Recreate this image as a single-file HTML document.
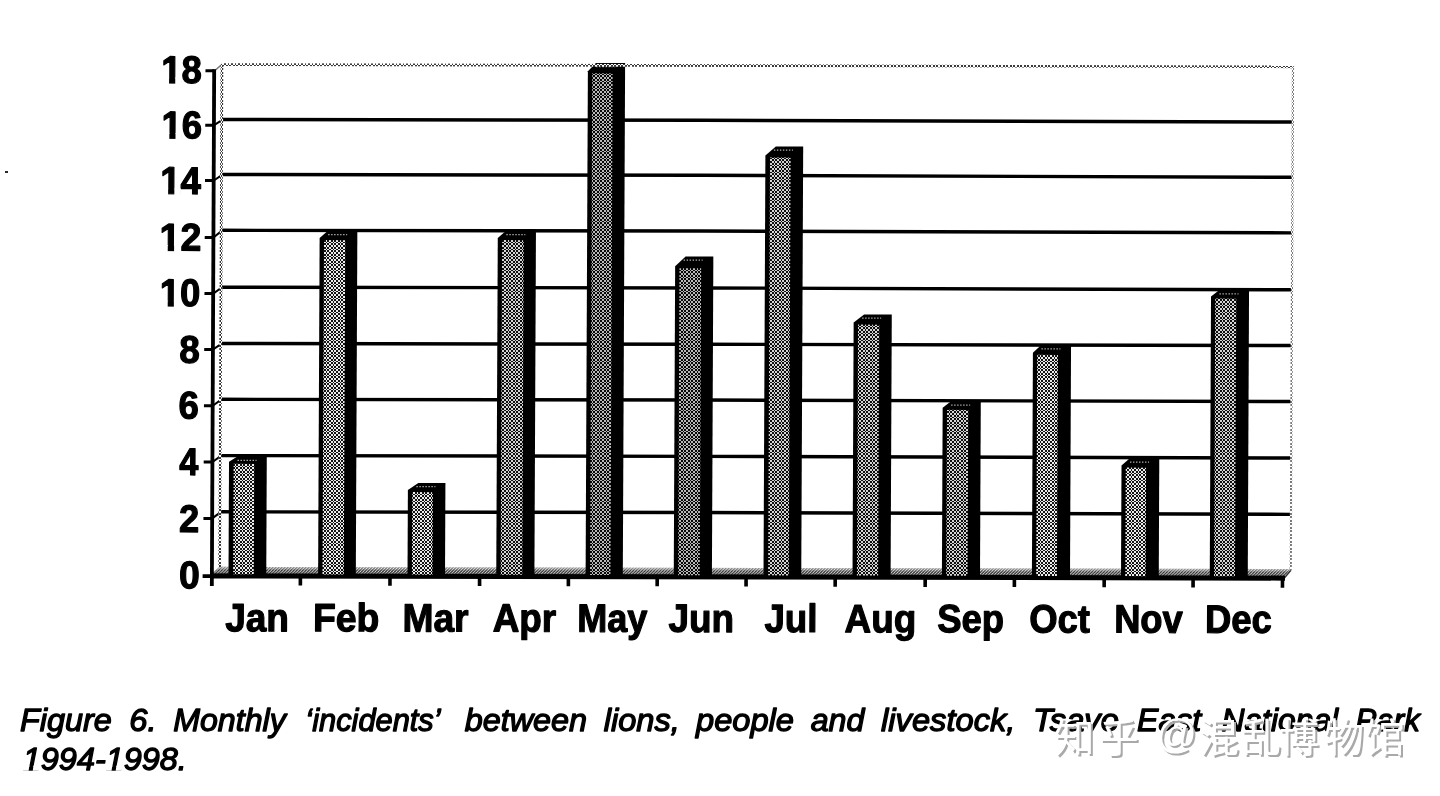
<!DOCTYPE html>
<html lang="en"><head><meta charset="utf-8"><title>Figure 6. Monthly incidents between lions, people and livestock</title>
<style>
html,body{margin:0;padding:0;background:#fff;}
body{width:1440px;height:796px;overflow:hidden;position:relative;font-family:"Liberation Sans",sans-serif;}
svg{display:block;position:absolute;left:0;top:0;will-change:transform;}
text{font-family:"Liberation Sans",sans-serif;}
.yl,.xl{font-weight:bold;font-size:39.5px;fill:#000;stroke:#000;stroke-width:1.2px;stroke-linejoin:round;}
.yl{font-size:38.6px;}
.cap{font-style:italic;font-size:32px;fill:#000;stroke:#000;stroke-width:1.3px;stroke-linejoin:round;}
.wm{font-family:"Liberation Sans","Noto Sans CJK SC",sans-serif;font-size:40px;}
</style></head><body>
<svg width="1440" height="796" viewBox="0 0 1440 796">
<defs>
<pattern id="d0" width="7" height="7" patternUnits="userSpaceOnUse"><rect width="7" height="7" fill="#ececec"/><path d="M0 0h2v1h-2zM4 0h1v1h-1zM0 1h2v1h-2zM4 1h1v1h-1zM2 2h2v1h-2zM5 2h2v1h-2zM2 3h2v1h-2zM5 3h2v1h-2zM0 4h2v1h-2zM4 4h1v1h-1zM2 5h2v1h-2zM5 5h2v1h-2zM2 6h2v1h-2zM5 6h2v1h-2z" fill="#141414"/></pattern>
<pattern id="d1" width="7" height="7" patternUnits="userSpaceOnUse"><rect width="7" height="7" fill="#d4d4d4"/><path d="M0 0h2v1h-2zM4 0h1v1h-1zM0 1h2v1h-2zM4 1h1v1h-1zM2 2h2v1h-2zM5 2h2v1h-2zM2 3h2v1h-2zM5 3h2v1h-2zM0 4h2v1h-2zM4 4h1v1h-1zM2 5h2v1h-2zM5 5h2v1h-2zM2 6h2v1h-2zM5 6h2v1h-2z" fill="#0e0e0e"/></pattern>
<pattern id="d2" width="7" height="7" patternUnits="userSpaceOnUse"><rect width="7" height="7" fill="#b8b8b8"/><path d="M0 0h2v1h-2zM4 0h1v1h-1zM0 1h2v1h-2zM4 1h1v1h-1zM2 2h2v1h-2zM5 2h2v1h-2zM2 3h2v1h-2zM5 3h2v1h-2zM0 4h2v1h-2zM4 4h1v1h-1zM2 5h2v1h-2zM5 5h2v1h-2zM2 6h2v1h-2zM5 6h2v1h-2z" fill="#080808"/></pattern>
<pattern id="dl" width="7" height="7" patternUnits="userSpaceOnUse"><rect width="7" height="7" fill="#ffffff"/><path d="M0 0h2v1h-2zM4 0h1v1h-1zM0 1h2v1h-2zM4 1h1v1h-1zM2 2h2v1h-2zM5 2h2v1h-2zM2 3h2v1h-2zM5 3h2v1h-2zM0 4h2v1h-2zM4 4h1v1h-1zM2 5h2v1h-2zM5 5h2v1h-2zM2 6h2v1h-2zM5 6h2v1h-2z" fill="#3a3a3a"/></pattern>
<pattern id="dr" width="7" height="7" patternUnits="userSpaceOnUse"><rect width="7" height="7" fill="#ffffff"/><path d="M0 0h2v1h-2zM4 0h1v1h-1zM0 1h2v1h-2zM4 1h1v1h-1zM2 2h2v1h-2zM5 2h2v1h-2zM2 3h2v1h-2zM5 3h2v1h-2zM0 4h2v1h-2zM4 4h1v1h-1zM2 5h2v1h-2zM5 5h2v1h-2zM2 6h2v1h-2zM5 6h2v1h-2z" fill="#7a7a7a"/></pattern>
<pattern id="df" width="3" height="3" patternUnits="userSpaceOnUse"><rect width="3" height="3" fill="#efefef"/><path d="M-1 1 L1 -1 M0 3 L3 0 M2 4 L4 2" stroke="#1a1a1a" stroke-width="1.25"/></pattern>
<linearGradient id="fg" x1="0" y1="0" x2="0" y2="1"><stop offset="0" stop-color="#fff" stop-opacity="0.55"/><stop offset="0.55" stop-color="#fff" stop-opacity="0"/><stop offset="1" stop-color="#000" stop-opacity="0.45"/></linearGradient>
</defs>
<rect width="1440" height="796" fill="#fff"/>
<rect x="5" y="171" width="3" height="2" fill="#2a2a2a"/>
<g transform="matrix(1 0.0021 -0.0045 1 2.5920 -0.4452)">
<path d="M212.5 70.6 L219.5 64.5" stroke="#777" stroke-width="1.4" fill="none"/>
<path d="M1284.5 575.5 L1290.8 568" stroke="#333" stroke-width="1.6" fill="none"/>
<polygon points="211.5,574.2 219.5,566.8 1290.8,566.8 1284.5,574.2" fill="url(#df)"/>
<polygon points="211.5,574.2 219.5,566.8 1290.8,566.8 1284.5,574.2" fill="url(#fg)"/>
<g stroke="#000" fill="none" stroke-linecap="butt">
<path d="M219.6 119.50 L700 119.25 L1290.3 119.80" stroke-width="3.4"/>
<path d="M212 125.20 L220.4 119.80" stroke-width="2"/>
<path d="M219.6 174.50 L700 174.25 L1290.3 175.00" stroke-width="3.4"/>
<path d="M212 180.50 L220.4 174.80" stroke-width="2"/>
<path d="M219.6 230.30 L700 230.05 L1290.3 230.60" stroke-width="3.4"/>
<path d="M212 237.60 L220.4 230.60" stroke-width="2"/>
<path d="M219.6 287.20 L700 286.95 L1290.3 287.50" stroke-width="3.4"/>
<path d="M212 293.60 L220.4 287.50" stroke-width="2"/>
<path d="M219.6 343.50 L700 343.25 L1290.3 343.30" stroke-width="3.4"/>
<path d="M212 349.40 L220.4 343.80" stroke-width="2"/>
<path d="M219.6 399.30 L700 399.05 L1290.3 399.30" stroke-width="3.4"/>
<path d="M212 405.80 L220.4 399.60" stroke-width="2"/>
<path d="M219.6 455.60 L700 455.35 L1290.3 455.80" stroke-width="3.4"/>
<path d="M212 462.00 L220.4 455.90" stroke-width="2"/>
<path d="M219.6 511.80 L700 511.55 L1290.3 512.10" stroke-width="3.4"/>
<path d="M212 518.40 L220.4 512.10" stroke-width="2"/>
</g>
<polygon points="228.50,461.72 236.50,456.69 266.25,456.69 266.25,577.0 228.50,577.0" fill="#000"/>
<path d="M237.0 460.3 h19" stroke="#b0b0b0" stroke-width="1.3" stroke-dasharray="1.4 1.6"/>
<polygon points="318.10,237.78 326.10,230.76 355.80,230.76 355.80,577.0 318.10,577.0" fill="#000"/>
<path d="M326.6 234.4 h19" stroke="#b0b0b0" stroke-width="1.3" stroke-dasharray="1.4 1.6"/>
<polygon points="407.50,489.59 417.90,482.57 445.00,482.57 445.00,577.0 407.50,577.0" fill="#000"/>
<path d="M416.0 486.2 h19" stroke="#b0b0b0" stroke-width="1.3" stroke-dasharray="1.4 1.6"/>
<polygon points="496.25,237.40 504.25,230.38 534.40,230.38 534.40,577.0 496.25,577.0" fill="#000"/>
<path d="M504.8 234.0 h19" stroke="#b0b0b0" stroke-width="1.3" stroke-dasharray="1.4 1.6"/>
<polygon points="585.60,70.47 593.60,62.19 622.80,62.19 622.80,577.0 585.60,577.0" fill="#000"/>
<path d="M594.1 65.8 h19" stroke="#b0b0b0" stroke-width="1.3" stroke-dasharray="1.4 1.6"/>
<polygon points="673.75,265.23 684.15,255.51 711.90,255.51 711.90,577.0 673.75,577.0" fill="#000"/>
<path d="M682.2 259.1 h19" stroke="#b0b0b0" stroke-width="1.3" stroke-dasharray="1.4 1.6"/>
<polygon points="763.50,154.24 773.90,145.32 801.25,145.32 801.25,577.0 763.50,577.0" fill="#000"/>
<path d="M772.0 148.9 h19" stroke="#b0b0b0" stroke-width="1.3" stroke-dasharray="1.4 1.6"/>
<polygon points="852.50,321.15 862.90,313.13 890.60,313.13 890.60,577.0 852.50,577.0" fill="#000"/>
<path d="M861.0 316.7 h19" stroke="#b0b0b0" stroke-width="1.3" stroke-dasharray="1.4 1.6"/>
<polygon points="941.90,406.22 949.90,399.95 980.00,399.95 980.00,577.0 941.90,577.0" fill="#000"/>
<path d="M950.4 403.5 h19" stroke="#b0b0b0" stroke-width="1.3" stroke-dasharray="1.4 1.6"/>
<polygon points="1031.90,351.03 1039.90,343.51 1070.00,343.51 1070.00,577.0 1031.90,577.0" fill="#000"/>
<path d="M1040.4 347.1 h19" stroke="#b0b0b0" stroke-width="1.3" stroke-dasharray="1.4 1.6"/>
<polygon points="1121.00,463.59 1129.00,456.57 1158.75,456.57 1158.75,577.0 1121.00,577.0" fill="#000"/>
<path d="M1129.5 460.2 h19" stroke="#b0b0b0" stroke-width="1.3" stroke-dasharray="1.4 1.6"/>
<polygon points="1209.75,294.40 1217.75,288.13 1247.75,288.13 1247.75,577.0 1209.75,577.0" fill="#000"/>
<path d="M1218.2 291.7 h19" stroke="#b0b0b0" stroke-width="1.3" stroke-dasharray="1.4 1.6"/>
<g stroke="#000" fill="none">
<path d="M211.9 69.3 V586" stroke-width="3.8"/>
<path d="M203.2 70.80 H212" stroke-width="3"/>
<path d="M203.2 125.20 H212" stroke-width="3"/>
<path d="M203.2 180.50 H212" stroke-width="3"/>
<path d="M203.2 237.60 H212" stroke-width="3"/>
<path d="M203.2 293.60 H212" stroke-width="3"/>
<path d="M203.2 349.40 H212" stroke-width="3"/>
<path d="M203.2 405.80 H212" stroke-width="3"/>
<path d="M203.2 462.00 H212" stroke-width="3"/>
<path d="M203.2 518.40 H212" stroke-width="3"/>
<path d="M202.6 576.10 H212" stroke-width="3.6"/>
<path d="M211 575.9 H1285" stroke-width="5"/>
<path d="M300.4 576 V585.4" stroke-width="3.6"/>
<path d="M390.0 576 V585.4" stroke-width="3.6"/>
<path d="M479.6 576 V585.4" stroke-width="3.6"/>
<path d="M568.4 576 V585.4" stroke-width="3.6"/>
<path d="M657.2 576 V585.4" stroke-width="3.6"/>
<path d="M746.1 576 V585.4" stroke-width="3.6"/>
<path d="M835.2 576 V585.4" stroke-width="3.6"/>
<path d="M925.2 576 V585.4" stroke-width="3.6"/>
<path d="M1014.4 576 V585.4" stroke-width="3.6"/>
<path d="M1104.2 576 V585.4" stroke-width="3.6"/>
<path d="M1193.1 576 V585.4" stroke-width="3.6"/>
<path d="M1282.5 576 V585.4" stroke-width="3.6"/>
</g>
<text class="yl" text-anchor="end" transform="translate(199.47 83.00) scale(0.9444 1)">18</text>
<path transform="translate(199.47 83.00) scale(0.9444 1)" fill="#fff" d="M-42.10 -5.34H-34.55V1.6H-42.10zM-28.01 -5.34H-21.24V1.6H-28.01z"/>
<text class="yl" text-anchor="end" transform="translate(199.97 138.30) scale(0.9443 1)">16</text>
<path transform="translate(199.97 138.30) scale(0.9443 1)" fill="#fff" d="M-42.10 -5.34H-34.55V1.6H-42.10zM-28.01 -5.34H-21.24V1.6H-28.01z"/>
<text class="yl" text-anchor="end" transform="translate(199.22 193.95) scale(0.9500 1)">14</text>
<path transform="translate(199.22 193.95) scale(0.9500 1)" fill="#fff" d="M-42.10 -5.34H-34.55V1.6H-42.10zM-28.01 -5.34H-21.24V1.6H-28.01z"/>
<text class="yl" text-anchor="end" transform="translate(199.77 250.50) scale(0.9695 1)">12</text>
<path transform="translate(199.77 250.50) scale(0.9695 1)" fill="#fff" d="M-42.10 -5.34H-34.55V1.6H-42.10zM-28.01 -5.34H-21.24V1.6H-28.01z"/>
<text class="yl" text-anchor="end" transform="translate(199.02 306.15) scale(0.9419 1)">10</text>
<path transform="translate(199.02 306.15) scale(0.9419 1)" fill="#fff" d="M-42.10 -5.34H-34.55V1.6H-42.10zM-28.01 -5.34H-21.24V1.6H-28.01z"/>
<text class="yl" text-anchor="end" transform="translate(198.78 362.70) scale(0.9542 1)">8</text>
<text class="yl" text-anchor="end" transform="translate(198.18 418.65) scale(0.9465 1)">6</text>
<text class="yl" text-anchor="end" transform="translate(197.83 474.95) scale(0.8895 1)">4</text>
<text class="yl" text-anchor="end" transform="translate(198.94 532.00) scale(0.9388 1)">2</text>
<text class="yl" text-anchor="end" transform="translate(199.74 588.40) scale(0.9659 1)">0</text>
<text class="xl" text-anchor="middle" transform="translate(257.32 631.11) scale(0.9362 1)">Jan</text>
<text class="xl" text-anchor="middle" transform="translate(346.46 631.06) scale(0.9436 1)">Feb</text>
<text class="xl" text-anchor="middle" transform="translate(435.80 631.02) scale(0.9403 1)">Mar</text>
<text class="xl" text-anchor="middle" transform="translate(524.59 630.97) scale(0.9314 1)">Apr</text>
<text class="xl" text-anchor="middle" transform="translate(612.44 630.93) scale(0.9102 1)">May</text>
<text class="xl" text-anchor="middle" transform="translate(701.58 630.88) scale(0.9320 1)">Jun</text>
<text class="xl" text-anchor="middle" transform="translate(791.20 630.84) scale(0.9281 1)">Jul</text>
<text class="xl" text-anchor="middle" transform="translate(880.62 630.80) scale(0.9320 1)">Aug</text>
<text class="xl" text-anchor="middle" transform="translate(970.85 630.75) scale(0.9212 1)">Sep</text>
<text class="xl" text-anchor="middle" transform="translate(1059.82 630.71) scale(0.9209 1)">Oct</text>
<text class="xl" text-anchor="middle" transform="translate(1148.60 630.66) scale(0.9177 1)">Nov</text>
<text class="xl" text-anchor="middle" transform="translate(1238.55 630.62) scale(0.9214 1)">Dec</text>
</g>
<polygon points="221.81,63.22 1293.91,65.47 1293.90,68.17 221.80,65.92" fill="url(#dl)"/>
<polygon points="220.60,64.01 223.30,64.02 221.04,567.02 218.34,567.01" fill="url(#dl)"/>
<polygon points="1291.90,66.26 1294.10,66.27 1291.84,570.27 1289.64,570.26" fill="url(#dr)"/>
<polygon points="233.60,463.86 254.25,463.90 253.76,574.29 233.11,574.24" fill="url(#d0)"/>
<polygon points="324.01,240.11 345.26,240.15 343.76,574.48 322.51,574.43" fill="url(#d0)"/>
<polygon points="412.28,492.11 432.88,492.15 432.51,574.66 411.91,574.62" fill="url(#d0)"/>
<polygon points="502.11,240.11 523.76,240.15 522.26,574.85 500.61,574.81" fill="url(#d1)"/>
<polygon points="592.27,73.36 612.67,73.40 610.41,575.04 590.01,574.99" fill="url(#d2)"/>
<polygon points="679.49,268.31 701.14,268.35 699.76,575.22 678.11,575.18" fill="url(#d2)"/>
<polygon points="769.99,157.51 790.64,157.55 788.76,575.41 768.11,575.37" fill="url(#d1)"/>
<polygon points="858.04,324.61 879.24,324.65 878.11,575.60 856.91,575.55" fill="url(#d1)"/>
<polygon points="947.00,409.86 968.25,409.90 967.51,575.79 946.26,575.74" fill="url(#d1)"/>
<polygon points="1037.25,354.86 1057.90,354.90 1056.91,575.97 1036.26,575.93" fill="url(#d0)"/>
<polygon points="1125.75,467.61 1146.10,467.65 1145.61,576.16 1125.26,576.12" fill="url(#d0)"/>
<polygon points="1215.26,298.61 1236.26,298.65 1235.01,576.35 1214.01,576.30" fill="url(#d1)"/>
<text class="cap" transform="translate(19.95 731.3) scale(1.0119 1)">Figure</text>
<text class="cap" transform="translate(129.33 731.3) scale(1.0215 1)">6.</text>
<text class="cap" transform="translate(173.20 731.3) scale(1.0044 1)">Monthly</text>
<text class="cap" transform="translate(305.33 731.3) scale(0.9631 1)">‘incidents’</text>
<text class="cap" transform="translate(464.65 731.3) scale(1.0117 1)">between</text>
<text class="cap" transform="translate(603.75 731.3) scale(1.0193 1)">lions,</text>
<text class="cap" transform="translate(695.98 731.3) scale(1.0205 1)">people</text>
<text class="cap" transform="translate(810.65 731.3) scale(1.0047 1)">and</text>
<text class="cap" transform="translate(881.10 731.3) scale(1.0208 1)">livestock,</text>
<text class="cap" transform="translate(1032.91 731.3) scale(1.0212 1)">Tsavo</text>
<text class="cap" transform="translate(1137.05 731.3) scale(1.0009 1)">East</text>
<text class="cap" transform="translate(1221.45 731.3) scale(0.9945 1)">National</text>
<text class="cap" transform="translate(1355.61 731.3) scale(0.9749 1)">Park</text>
<text class="cap" transform="translate(22.80 769.5) scale(1.0135 1)">1994-1998.</text>
<path transform="translate(22.80 769.5) scale(1.0135 1) translate(0.00 0) scale(0.015625 -0.015625)" fill="#fff" d="M-40 -80L10 235L412 235L367 -80zM628 -80L673 235L1050 235L1005 -80z"/>
<path transform="translate(22.80 769.5) scale(1.0135 1) translate(81.84 0) scale(0.015625 -0.015625)" fill="#fff" d="M-40 -80L10 235L412 235L367 -80zM628 -80L673 235L1050 235L1005 -80z"/>
<g fill="#a9a9a9" transform="translate(2 2)"><text class="wm" fill="#a9a9a9" x="1054.6 1098.7 1142 1156.2 1198.9 1241.1 1279 1323.9 1364.8" y="752.4 752.4 752.4 747.5 752.4 752.4 752.4 752.4 752.4">知乎 @混乱博物馆</text></g>
<g fill="#fff"><text class="wm" fill="#fff" x="1054.6 1098.7 1142 1156.2 1198.9 1241.1 1279 1323.9 1364.8" y="752.4 752.4 752.4 747.5 752.4 752.4 752.4 752.4 752.4">知乎 @混乱博物馆</text></g>
</svg>
</body></html>
